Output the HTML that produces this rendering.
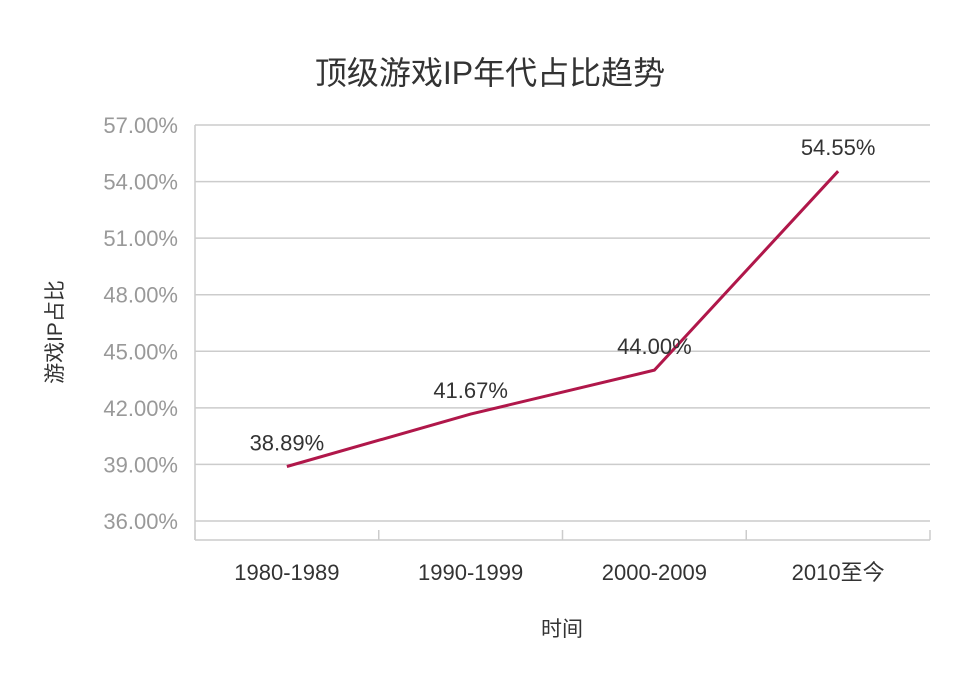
<!DOCTYPE html>
<html><head><meta charset="utf-8"><style>
body{margin:0;background:#fff;}
svg{display:block;font-family:"Liberation Sans","Noto Sans CJK SC",sans-serif;}
</style></head><body>
<svg id="chart" width="980" height="676" viewBox="0 0 980 676">
<rect width="980" height="676" fill="#fff"/>
<text x="490" y="84" text-anchor="middle" font-size="32" fill="#333">顶级游戏IP年代占比趋势</text>
<g id="grid"></g><g id="yticks"></g><g id="xticks"></g><g id="series"></g>
<text transform="translate(62,332) rotate(-90)" text-anchor="middle" font-size="21" fill="#333">游戏IP占比</text>
<text x="562" y="636" text-anchor="middle" font-size="21" fill="#333">时间</text>
</svg>
<script>
const categories=["1980-1989","1990-1999","2000-2009","2010至今"];
const values=[38.89,41.67,44.00,54.55];
const yTicks=[36,39,42,45,48,51,54,57];
const NS="http://www.w3.org/2000/svg";
const L=195,R=930,T=125,B=521,AX=540,yMin=36,yMax=57;
const y=v=>B-(v-yMin)/(yMax-yMin)*(B-T);
const bw=(R-L)/categories.length;
const x=i=>L+bw*(i+0.5);
function mk(tag,attrs,parent,txt){const e=document.createElementNS(NS,tag);for(const k in attrs)e.setAttribute(k,attrs[k]);if(txt!==undefined)e.textContent=txt;parent.appendChild(e);return e;}
const grid=document.getElementById('grid'),yt=document.getElementById('yticks'),xt=document.getElementById('xticks'),se=document.getElementById('series');
yTicks.forEach(v=>{
 const g=mk('line',{x1:L,x2:R,y1:y(v),y2:y(v),stroke:'#ccc','stroke-width':1.5},grid);
 
 
 const t=mk('text',{x:178,y:y(v)+8,'text-anchor':'end','font-size':22,fill:'#999'},yt,v.toFixed(2)+'%');
 
 
});
const ya=mk('line',{x1:L,x2:L,y1:T,y2:AX,stroke:'#ccc','stroke-width':1.5},grid);


const xa=mk('line',{x1:L,x2:R,y1:AX,y2:AX,stroke:'#ccc','stroke-width':1.5},grid);


for(let i=0;i<=categories.length;i++){
 const tk=mk('line',{x1:L+bw*i,x2:L+bw*i,y1:AX-10,y2:AX,stroke:'#ccc','stroke-width':1.5},xt);
 
 
}
categories.forEach((c,i)=>{
 const t=mk('text',{x:x(i),y:580,'text-anchor':'middle','font-size':22,fill:'#333'},xt,c);
 
 
});
const p=mk('polyline',{points:values.map((v,i)=>x(i)+','+y(v)).join(' '),fill:'none',stroke:'#b0174a','stroke-width':3},se);


values.forEach((v,i)=>{
 const t=mk('text',{x:x(i),y:y(v)-16,'text-anchor':'middle','font-size':22,fill:'#333'},se,v.toFixed(2)+'%');
 
 
});
</script>
</body></html>
